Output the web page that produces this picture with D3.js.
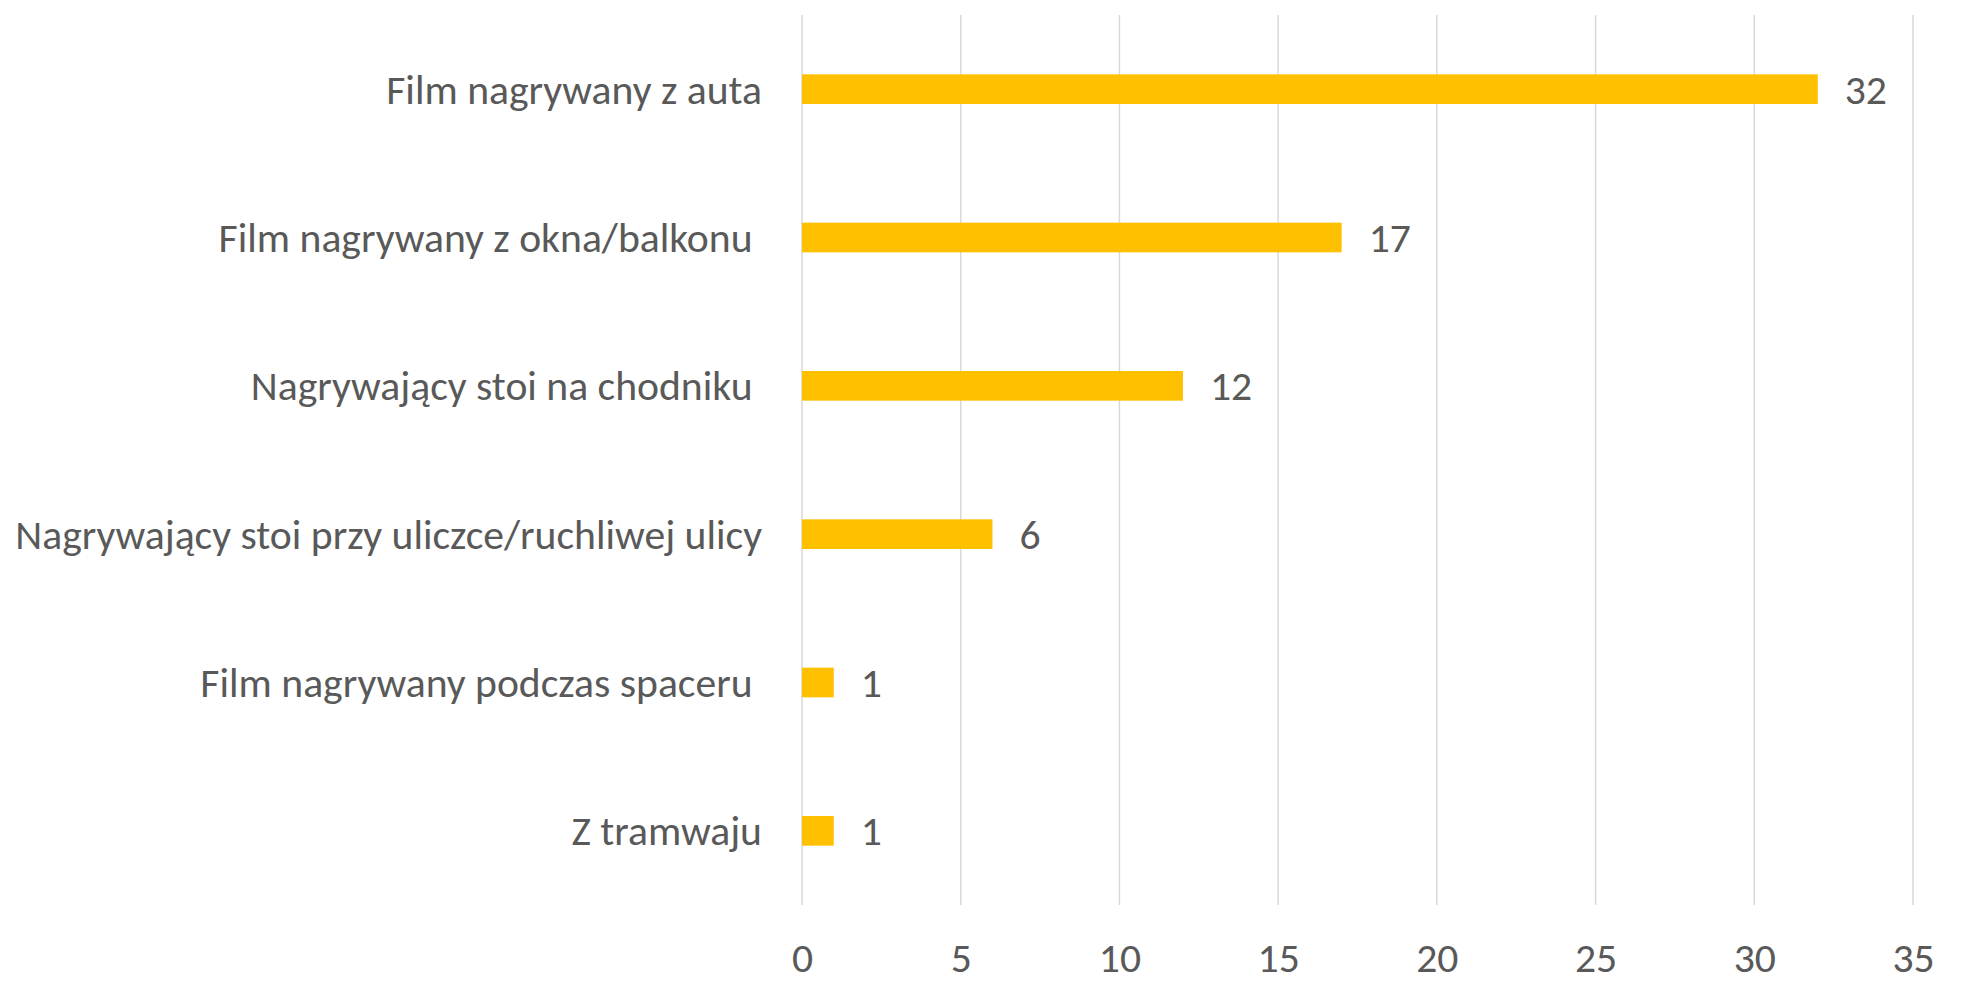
<!DOCTYPE html>
<html>
<head>
<meta charset="utf-8">
<script src="https://cdn.jsdelivr.net/npm/d3@7"></script>
<style>
  body { margin: 0; background: #fff; }
  text { font-family: Carlito, Lato, "Open Sans", sans-serif; fill: #595959; }
</style>
</head>
<body>
<div id="chart"></div>
<script>
// categories, top to bottom (trailing spaces are in the source labels)
var categories = [
    "Film nagrywany z auta",
    "Film nagrywany z okna/balkonu ",
    "Nagrywający stoi na chodniku ",
    "Nagrywający stoi przy uliczce/ruchliwej ulicy",
    "Film nagrywany podczas spaceru ",
    "Z tramwaju"
];
var values = [32, 17, 12, 6, 1, 1];
var xTicks = [0, 5, 10, 15, 20, 25, 30, 35];

var width = 1977, height = 1002;
var plot = {left: 802, right: 1913, top: 15, bottom: 905};

var svg = d3.select("#chart")
    .append("svg")
    .attr("width", width)
    .attr("height", height);

var x = d3.scaleLinear()
    .domain([0, 35])
    .range([plot.left, plot.right]);

var y = d3.scaleBand()
    .domain(categories)
    .range([plot.top, plot.bottom])
    .paddingInner(0.8)
    .paddingOuter(0.4);

// fit the font so the longest label spans the same width as the reference
var probe = svg.append("text").style("font-size", "30px").style("white-space", "pre")
    .text("Nagrywający stoi przy uliczce/ruchliwej ulicy");
var fontSize = 30 * 747 / probe.node().getComputedTextLength();
probe.remove();

// gridlines
svg.append("g")
    .attr("class", "grid")
    .selectAll("line")
    .data(xTicks)
    .enter()
    .append("line")
    .attr("x1", function(d) { return x(d); })
    .attr("x2", function(d) { return x(d); })
    .attr("y1", plot.top)
    .attr("y2", plot.bottom)
    .attr("stroke", "#d9d9d9")
    .attr("stroke-width", 1.5);

// x axis labels
var xAxis = svg.append("g")
    .attr("transform", "translate(0," + 957 + ")")
    .call(d3.axisBottom(x).tickValues(xTicks).tickSize(0).tickPadding(0));
xAxis.select(".domain").remove();
xAxis.selectAll("text")
    .attr("dy", "0.35em")
    .attr("y", 0)
    .style("font-size", fontSize + "px")
    .attr("fill", null);
xAxis.attr("font-family", null).attr("font-size", null);

// bars
svg.append("g")
    .selectAll("rect")
    .data(values)
    .enter()
    .append("rect")
    .attr("x", x(0))
    .attr("y", function(d, i) { return y(categories[i]); })
    .attr("width", function(d) { return x(d) - x(0); })
    .attr("height", y.bandwidth())
    .attr("fill", "#ffc000");

// value labels
svg.append("g")
    .selectAll("text")
    .data(values)
    .enter()
    .append("text")
    .attr("x", function(d) { return x(d) + 27; })
    .attr("y", function(d, i) { return y(categories[i]) + y.bandwidth() / 2; })
    .attr("dy", "0.35em")
    .style("font-size", fontSize + "px")
    .text(function(d) { return d; });

// category labels
svg.append("g")
    .selectAll("text")
    .data(categories)
    .enter()
    .append("text")
    .attr("x", 762)
    .attr("y", function(d) { return y(d) + y.bandwidth() / 2; })
    .attr("dy", "0.35em")
    .attr("text-anchor", "end")
    .style("white-space", "pre")
    .style("font-size", fontSize + "px")
    .text(function(d) { return d; });
</script>
</body>
</html>
